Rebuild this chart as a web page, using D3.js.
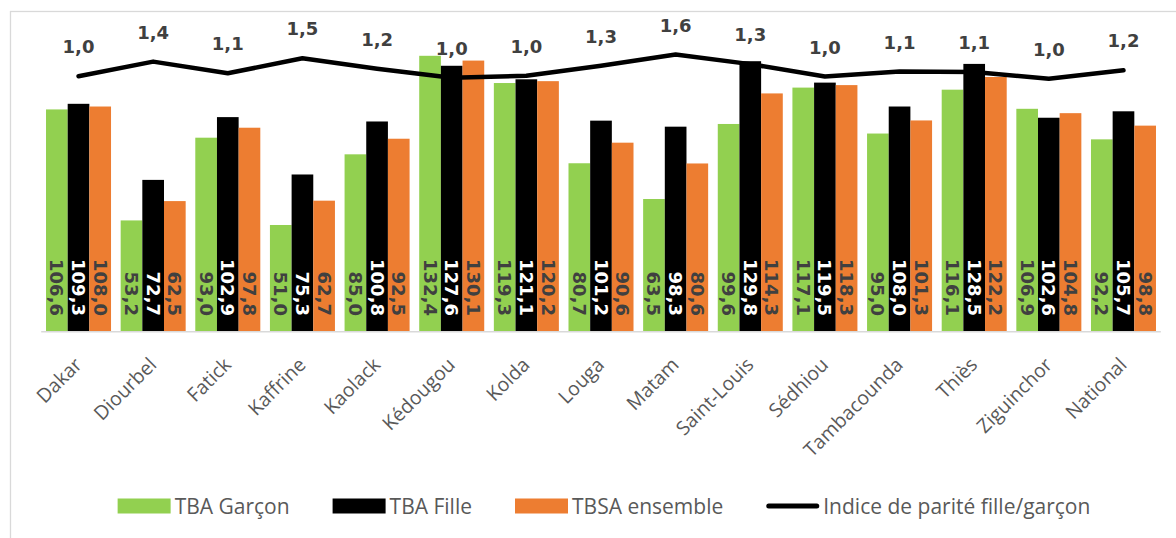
<!DOCTYPE html>
<html>
<head>
<meta charset="utf-8">
<script src="https://cdn.jsdelivr.net/npm/d3@7"></script>
<style>
  html, body { margin: 0; padding: 0; background: #ffffff; }
  svg { display: block; }
</style>
</head>
<body>
<svg id="chart" width="1176" height="538"></svg>
<script>
// Regions and rates
const categories = ["Dakar", "Diourbel", "Fatick", "Kaffrine", "Kaolack", "Kédougou", "Kolda",
  "Louga", "Matam", "Saint-Louis", "Sédhiou", "Tambacounda", "Thiès", "Ziguinchor", "National"];
const tbaGarcon = [106.6, 53.2, 93.0, 51.0, 85.0, 132.4, 119.3, 80.7, 63.5, 99.6, 117.1, 95.0, 116.1, 106.9, 92.2];
const tbaFille = [109.3, 72.7, 102.9, 75.3, 100.8, 127.6, 121.1, 101.2, 98.3, 129.8, 119.5, 108.0, 128.5, 102.6, 105.7];
const tbsaEnsemble = [108.0, 62.5, 97.8, 62.7, 92.5, 130.1, 120.2, 90.6, 80.6, 114.3, 118.3, 101.3, 122.2, 104.8, 98.8];
const indiceParite = [1.03, 1.38, 1.10, 1.46, 1.21, 0.99, 1.04, 1.28, 1.55, 1.32, 1.02, 1.14, 1.13, 0.97, 1.17];

const barSeries = [
  { name: "TBA Garçon", values: tbaGarcon, color: "#92d050", labelColor: "#404040" },
  { name: "TBA Fille", values: tbaFille, color: "#000000", labelColor: "#ffffff" },
  { name: "TBSA ensemble", values: tbsaEnsemble, color: "#ed7d31", labelColor: "#404040" }
];
const lineName = "Indice de parité fille/garçon";

const svg = d3.select("#chart");
const plot = { left: 41.2, right: 1160.8, top: 40, bottom: 331 };

const fmt = v => d3.format(".1f")(v).replace(".", ",");

// Chart frame
svg.append("rect")
  .attr("x", 10.5).attr("y", 11.5)
  .attr("width", 1200).attr("height", 560)
  .attr("fill", "none").attr("stroke", "#d9d9d9").attr("stroke-width", 1.3);

// Scales
const x0 = d3.scaleBand().domain(categories)
  .range([plot.left, plot.right])
  .paddingInner(0.129).paddingOuter(0.0645);
const x1 = d3.scaleBand().domain(barSeries.map(s => s.name))
  .range([0, x0.bandwidth()]).padding(0);
const y = d3.scaleLinear().domain([0, 140]).range([plot.bottom, plot.top]);
const y2 = d3.scaleLinear().domain([-5.1, 1.9]).range([plot.bottom, plot.top]);

// Bars
const groups = svg.append("g").selectAll("g")
  .data(categories)
  .join("g")
  .attr("transform", d => `translate(${x0(d)},0)`);

groups.selectAll("rect")
  .data((d, i) => barSeries.map(s => ({ s, v: s.values[i] })))
  .join("rect")
  .attr("x", d => x1(d.s.name))
  .attr("width", x1.bandwidth())
  .attr("y", d => y(d.v))
  .attr("height", d => y(0) - y(d.v))
  .attr("fill", d => d.s.color);

// Category axis line
svg.append("line")
  .attr("x1", plot.left).attr("x2", plot.right)
  .attr("y1", plot.bottom + 0.75).attr("y2", plot.bottom + 0.75)
  .attr("stroke", "#d9d9d9").attr("stroke-width", 1.5);

// Vertical value labels inside bars, read top to bottom
groups.selectAll("text.val")
  .data((d, i) => barSeries.map(s => ({ s, v: s.values[i] })))
  .join("text")
  .attr("class", "val")
  .attr("transform", d => `translate(${x1(d.s.name) + x1.bandwidth() / 2},${y(0) - 15}) rotate(90)`)
  .attr("text-anchor", "end")
  .attr("dy", "0.36em")
  .attr("font-family", "DejaVu Sans")
  .attr("font-weight", "bold")
  .attr("font-size", 18)
  .attr("fill", d => d.s.labelColor)
  .text(d => fmt(d.v));

// Parity index line
const cx = c => x0(c) + x0.bandwidth() / 2;
const line = d3.line()
  .x((d, i) => cx(categories[i]))
  .y(d => y2(d));

svg.append("path")
  .datum(indiceParite)
  .attr("d", line)
  .attr("fill", "none")
  .attr("stroke", "#000000")
  .attr("stroke-width", 4.5)
  .attr("stroke-linejoin", "round")
  .attr("stroke-linecap", "round");

svg.append("g").selectAll("text")
  .data(indiceParite)
  .join("text")
  .attr("x", (d, i) => cx(categories[i]))
  .attr("y", d => y2(d) - 23)
  .attr("text-anchor", "middle")
  .attr("font-family", "DejaVu Sans")
  .attr("font-weight", "bold")
  .attr("font-size", 18)
  .attr("fill", "#404040")
  .text(d => fmt(d));

// Category labels at -45°
svg.append("g").selectAll("text")
  .data(categories)
  .join("text")
  .attr("transform", d => `translate(${cx(d) + 4.5},366) rotate(-45)`)
  .attr("text-anchor", "end")
  .attr("font-family", "Open Sans")
  .attr("font-size", 19.5)
  .attr("fill", "#595959")
  .text(d => d);

// Legend
const legendItems = barSeries.map(s => ({ name: s.name, color: s.color, type: "bar" }))
  .concat([{ name: lineName, color: "#000000", type: "line" }]);
const legend = svg.append("g");
const swW = 53, swGap = 4, itemGap = 43, legendY = 506;
let lx = 0;
legendItems.forEach(item => {
  const g = legend.append("g").attr("transform", `translate(${lx},0)`);
  if (item.type === "bar") {
    g.append("rect").attr("x", 0).attr("y", legendY - 7.5)
      .attr("width", swW).attr("height", 15).attr("fill", item.color);
  } else {
    g.append("line").attr("x1", 2.5).attr("x2", swW - 2.5)
      .attr("y1", legendY).attr("y2", legendY)
      .attr("stroke", item.color).attr("stroke-width", 5)
      .attr("stroke-linecap", "round");
  }
  const t = g.append("text")
    .attr("x", swW + swGap).attr("y", legendY)
    .attr("dy", "0.36em")
    .attr("font-family", "Open Sans")
    .attr("font-size", 21)
    .attr("fill", "#595959")
    .text(item.name);
  lx += swW + swGap + t.node().getComputedTextLength() + itemGap;
});
const legendW = lx - itemGap;
legend.attr("transform", `translate(${604 - legendW / 2},0)`);
</script>
</body>
</html>
